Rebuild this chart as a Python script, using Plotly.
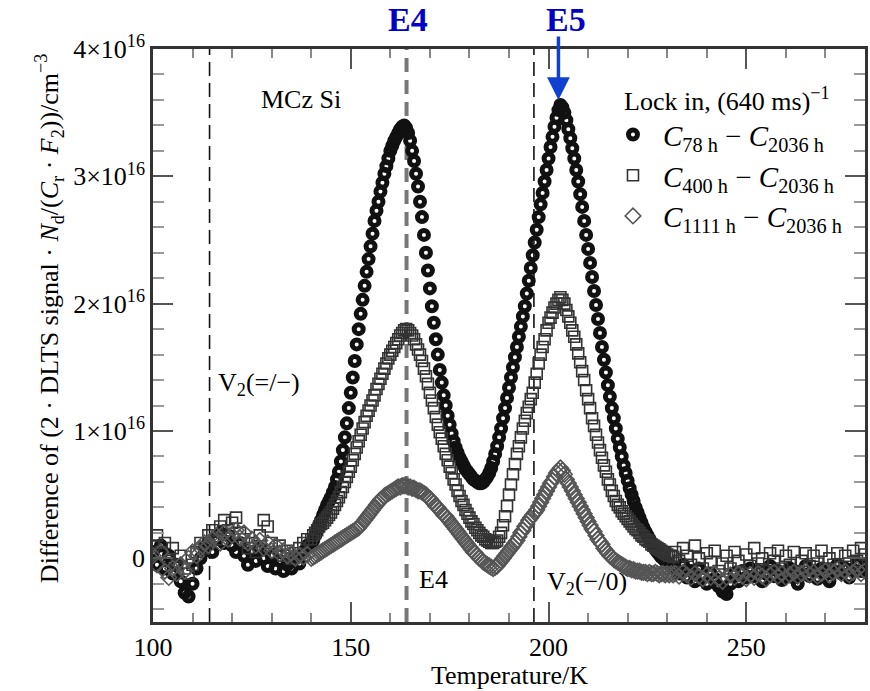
import numpy as np
import plotly.graph_objects as go

# Temperature sampling (K): 1 K on the flat wings, 0.5 K across the two peaks
T_LOW = np.arange(100, 140, 1.0)
T_MID = np.arange(140, 232, 0.5)
T_HIGH = np.arange(232, 281, 1.0)
temperature = np.concatenate([T_LOW, T_MID, T_HIGH])

UNIT = 1e16  # signal values below are in units of 1e16 cm^-3

# C(78 h) - C(2036 h)
c78_low = [0.05, -0.05, 0.10, -0.08, 0.02, -0.12, -0.05, -0.18, -0.27, -0.30,
           -0.20, -0.08, 0.00, 0.08, 0.12, 0.05, 0.15, 0.20, 0.12, 0.18,
           0.10, 0.05, 0.12, 0.02, -0.05, 0.05, -0.02, 0.08, 0.00, -0.06,
           0.02, -0.08, -0.02, -0.10, -0.05, -0.08, 0.00, -0.04, 0.05, 0.10]
c78_mid = [0.10, 0.14, 0.18, 0.22, 0.26, 0.30, 0.34, 0.38, 0.42, 0.45,
           0.48, 0.52, 0.56, 0.62, 0.68, 0.76, 0.85, 0.95, 1.06, 1.18,
           1.30, 1.42, 1.55, 1.68, 1.80, 1.92, 2.03, 2.14, 2.25, 2.35,
           2.45, 2.55, 2.65, 2.73, 2.80, 2.88, 2.95, 3.02, 3.08, 3.14,
           3.20, 3.24, 3.28, 3.31, 3.34, 3.37, 3.39, 3.40, 3.38, 3.34,
           3.28, 3.20, 3.12, 3.02, 2.92, 2.80, 2.68, 2.54, 2.40, 2.26,
           2.12, 1.98, 1.85, 1.72, 1.60, 1.48, 1.38, 1.28, 1.20, 1.12,
           1.05, 0.98, 0.92, 0.87, 0.83, 0.79, 0.76, 0.73, 0.70, 0.68,
           0.66, 0.64, 0.62, 0.61, 0.60, 0.59, 0.59, 0.60, 0.62, 0.64,
           0.67, 0.71, 0.76, 0.82, 0.88, 0.95, 1.02, 1.10, 1.18, 1.26,
           1.34, 1.42, 1.50, 1.58, 1.66, 1.74, 1.82, 1.90, 1.98, 2.08,
           2.18, 2.28, 2.38, 2.48, 2.58, 2.68, 2.78, 2.87, 2.96, 3.05,
           3.14, 3.23, 3.31, 3.39, 3.46, 3.52, 3.56, 3.54, 3.50, 3.44,
           3.37, 3.30, 3.22, 3.14, 3.05, 2.96, 2.86, 2.76, 2.65, 2.54,
           2.43, 2.32, 2.21, 2.10, 1.99, 1.88, 1.77, 1.66, 1.56, 1.46,
           1.36, 1.27, 1.18, 1.10, 1.02, 0.94, 0.87, 0.80, 0.73, 0.67,
           0.61, 0.55, 0.50, 0.45, 0.40, 0.36, 0.32, 0.28, 0.24, 0.21,
           0.18, 0.15, 0.12, 0.10, 0.07, 0.05, 0.03, 0.01, 0.00, -0.02,
           -0.04, -0.05, -0.07, -0.08]
c78_high = [-0.08, -0.12, -0.05, -0.15, -0.10, -0.18, -0.08, -0.14, -0.20, -0.12,
            -0.16, -0.22, -0.26, -0.28, -0.20, -0.12, -0.18, -0.10, -0.15, -0.08,
            -0.14, -0.10, -0.18, -0.12, -0.06, -0.14, -0.10, -0.17, -0.12, -0.08,
            -0.15, -0.20, -0.12, -0.06, -0.14, -0.10, -0.16, -0.08, -0.13, -0.18,
            -0.10, -0.05, -0.12, -0.08, -0.15, -0.09, -0.04, -0.10, -0.06]

# C(400 h) - C(2036 h)
c400_low = [0.10, 0.18, 0.05, 0.12, -0.02, 0.08, -0.05, 0.02, -0.08, -0.12,
            -0.05, 0.05, 0.12, 0.08, 0.18, 0.22, 0.15, 0.25, 0.30, 0.22,
            0.28, 0.32, 0.20, 0.15, 0.08, 0.12, 0.05, 0.18, 0.30, 0.25,
            0.12, 0.05, 0.10, 0.02, 0.06, 0.00, 0.04, 0.08, 0.12, 0.15]
c400_mid = [0.15, 0.18, 0.20, 0.22, 0.25, 0.27, 0.28, 0.30, 0.32, 0.34,
            0.36, 0.39, 0.42, 0.45, 0.48, 0.52, 0.56, 0.60, 0.64, 0.68,
            0.72, 0.77, 0.82, 0.87, 0.92, 0.97, 1.02, 1.07, 1.12, 1.16,
            1.20, 1.24, 1.28, 1.33, 1.37, 1.41, 1.45, 1.49, 1.53, 1.57,
            1.60, 1.63, 1.66, 1.69, 1.72, 1.75, 1.77, 1.79, 1.80, 1.79,
            1.77, 1.75, 1.72, 1.68, 1.64, 1.60, 1.55, 1.49, 1.43, 1.37,
            1.30, 1.24, 1.18, 1.11, 1.05, 0.99, 0.94, 0.88, 0.82, 0.77,
            0.72, 0.67, 0.62, 0.58, 0.53, 0.49, 0.45, 0.42, 0.38, 0.35,
            0.32, 0.29, 0.27, 0.24, 0.22, 0.20, 0.18, 0.17, 0.15, 0.14,
            0.13, 0.12, 0.12, 0.13, 0.14, 0.17, 0.20, 0.26, 0.33, 0.41,
            0.50, 0.58, 0.66, 0.74, 0.82, 0.88, 0.95, 1.02, 1.08, 1.14,
            1.19, 1.25, 1.30, 1.38, 1.45, 1.53, 1.60, 1.66, 1.72, 1.79,
            1.85, 1.89, 1.93, 1.97, 2.00, 2.03, 2.05, 2.03, 2.00, 1.95,
            1.90, 1.85, 1.79, 1.74, 1.68, 1.61, 1.54, 1.47, 1.40, 1.32,
            1.25, 1.18, 1.10, 1.04, 0.97, 0.91, 0.85, 0.79, 0.73, 0.68,
            0.62, 0.58, 0.53, 0.49, 0.45, 0.42, 0.40, 0.37, 0.35, 0.33,
            0.31, 0.29, 0.27, 0.25, 0.23, 0.22, 0.20, 0.18, 0.17, 0.15,
            0.14, 0.13, 0.11, 0.10, 0.09, 0.08, 0.07, 0.06, 0.05, 0.04,
            0.03, 0.02, 0.02, 0.01]
c400_high = [0.05, -0.02, 0.08, 0.02, -0.05, 0.10, 0.00, -0.08, 0.04, -0.03,
             0.06, -0.10, -0.04, 0.02, -0.08, 0.05, -0.02, -0.12, 0.03, -0.06,
             0.08, -0.04, 0.00, -0.10, 0.04, -0.02, 0.06, -0.08, 0.02, -0.05,
             0.05, -0.10, -0.02, 0.04, -0.06, 0.02, -0.04, 0.06, -0.08, 0.00,
             -0.05, 0.04, -0.10, 0.02, -0.04, 0.06, -0.02, 0.08, 0.03]

# C(1111 h) - C(2036 h)
c1111_low = [0.02, -0.05, 0.05, -0.10, -0.15, -0.08, -0.12, -0.05, -0.10, 0.00,
             0.05, 0.02, 0.08, 0.12, 0.10, 0.15, 0.18, 0.12, 0.20, 0.15,
             0.18, 0.22, 0.16, 0.20, 0.12, 0.15, 0.10, 0.14, 0.08, 0.12,
             0.06, 0.10, 0.04, 0.06, 0.02, 0.04, 0.00, 0.02, 0.01, 0.03]
c1111_mid = [0.00, 0.01, 0.02, 0.03, 0.04, 0.05, 0.06, 0.07, 0.08, 0.09,
             0.10, 0.11, 0.12, 0.13, 0.14, 0.15, 0.16, 0.17, 0.18, 0.19,
             0.20, 0.21, 0.22, 0.23, 0.24, 0.26, 0.28, 0.30, 0.32, 0.34,
             0.36, 0.38, 0.40, 0.42, 0.44, 0.46, 0.47, 0.49, 0.50, 0.51,
             0.52, 0.53, 0.54, 0.55, 0.56, 0.56, 0.57, 0.57, 0.57, 0.56,
             0.56, 0.55, 0.55, 0.54, 0.53, 0.53, 0.52, 0.51, 0.50, 0.48,
             0.47, 0.45, 0.43, 0.41, 0.40, 0.38, 0.36, 0.34, 0.33, 0.31,
             0.29, 0.27, 0.25, 0.23, 0.21, 0.19, 0.17, 0.15, 0.13, 0.11,
             0.09, 0.07, 0.05, 0.04, 0.02, 0.00, -0.01, -0.03, -0.04, -0.05,
             -0.06, -0.07, -0.08, -0.07, -0.06, -0.04, -0.02, 0.00, 0.02, 0.04,
             0.06, 0.08, 0.10, 0.12, 0.14, 0.17, 0.20, 0.22, 0.25, 0.27,
             0.30, 0.32, 0.34, 0.36, 0.38, 0.41, 0.44, 0.47, 0.50, 0.53,
             0.56, 0.59, 0.61, 0.64, 0.67, 0.69, 0.71, 0.69, 0.66, 0.62,
             0.59, 0.56, 0.53, 0.50, 0.47, 0.44, 0.41, 0.38, 0.35, 0.32,
             0.29, 0.26, 0.23, 0.21, 0.18, 0.15, 0.13, 0.11, 0.08, 0.06,
             0.04, 0.02, 0.01, -0.01, -0.02, -0.03, -0.04, -0.05, -0.06, -0.07,
             -0.08, -0.08, -0.09, -0.09, -0.10, -0.10, -0.10, -0.11, -0.11, -0.11,
             -0.12, -0.11, -0.12, -0.12, -0.11, -0.12, -0.13, -0.12, -0.12, -0.13,
             -0.12, -0.13, -0.12, -0.13]
c1111_high = [-0.12, -0.14, -0.11, -0.13, -0.15, -0.12, -0.14, -0.16, -0.13, -0.15,
              -0.12, -0.16, -0.18, -0.15, -0.13, -0.15, -0.12, -0.14, -0.16, -0.13,
              -0.15, -0.12, -0.14, -0.16, -0.13, -0.11, -0.14, -0.12, -0.15, -0.13,
              -0.11, -0.14, -0.12, -0.10, -0.13, -0.11, -0.14, -0.12, -0.10, -0.13,
              -0.11, -0.09, -0.12, -0.10, -0.13, -0.11, -0.09, -0.12, -0.10]

# Level positions (K) marked by dashed lines
T_V2_DOUBLE = 114.3
T_E4 = 164.1
T_V2_SINGLE = 196.3
T_E5 = 202.5
E5_PEAK = 3.6

SERIF = "Liberation Serif"
BLUE = "#0000C8"


def series(*parts):
    vals = np.concatenate([np.asarray(p, dtype=float) for p in parts])
    assert len(vals) == len(temperature)
    return vals * UNIT


y78 = series(c78_low, c78_mid, c78_high)
y400 = series(c400_low, c400_mid, c400_high)
y1111 = series(c1111_low, c1111_mid, c1111_high)

fig = go.Figure()
fig.add_trace(go.Scatter(
    x=temperature, y=y78, mode="markers",
    name="<i>C</i><sub>78 h</sub> − <i>C</i><sub>2036 h</sub>",
    marker=dict(symbol="circle-open", size=9, color="#111111",
                line=dict(width=5, color="#111111")),
))
fig.add_trace(go.Scatter(
    x=temperature, y=y400, mode="markers",
    name="<i>C</i><sub>400 h</sub> − <i>C</i><sub>2036 h</sub>",
    marker=dict(symbol="square-open", size=11, color="#333333",
                line=dict(width=1.6, color="#333333")),
))
fig.add_trace(go.Scatter(
    x=temperature, y=y1111, mode="markers",
    name="<i>C</i><sub>1111 h</sub> − <i>C</i><sub>2036 h</sub>",
    marker=dict(symbol="diamond-open", size=12, color="#555555",
                line=dict(width=1.6, color="#555555")),
))

# dashed level markers
for t, col, w, dash in [(T_V2_DOUBLE, "#111111", 1.6, "14px,7px"),
                        (T_E4, "#777777", 4, "14px,8px"),
                        (T_V2_SINGLE, "#111111", 1.6, "14px,7px")]:
    fig.add_shape(type="line", xref="x", yref="paper", x0=t, x1=t, y0=0, y1=1,
                  line=dict(color=col, width=w, dash=dash), layer="below")

ann = [
    dict(x=137.4, y=3.6 * UNIT, text="MCz Si", showarrow=False,
         font=dict(family=SERIF, size=26, color="black")),
    dict(x=115.8, y=1.37 * UNIT, text="V<sub>2</sub>(=/−)", showarrow=False,
         xanchor="left", font=dict(family=SERIF, size=26, color="black")),
    dict(x=166.8, y=-0.17 * UNIT, text="E4", showarrow=False,
         xanchor="left", font=dict(family=SERIF, size=26, color="black")),
    dict(x=199.0, y=-0.19 * UNIT, text="V<sub>2</sub>(−/0)", showarrow=False,
         xanchor="left", font=dict(family=SERIF, size=26, color="black")),
    dict(x=T_E4 + 0.4, y=1.0, yref="paper", yanchor="bottom", yshift=9,
         text="<b>E4</b>", showarrow=False,
         font=dict(family=SERIF, size=34, color=BLUE)),
    dict(x=T_E5 + 2.0, y=1.0, yref="paper", yanchor="bottom", yshift=9,
         text="<b>E5</b>", showarrow=False,
         font=dict(family=SERIF, size=34, color=BLUE)),
    dict(x=T_E5, y=E5_PEAK * UNIT, ax=T_E5, ay=4.11 * UNIT, axref="x", ayref="y",
         text="", showarrow=True, arrowhead=2, arrowsize=1.3, arrowwidth=3.5,
         arrowcolor="#1040D0", standoff=0),
    dict(xref="paper", yref="paper", x=0.659, y=0.911, xanchor="left", yanchor="middle",
         text="Lock in, (640 ms)<sup>−1</sup>", showarrow=False,
         font=dict(family=SERIF, size=26, color="black")),
    dict(xref="paper", yref="paper", x=-0.173, y=0.53, textangle=-90,
         text="Difference of (2 · DLTS signal · <i>N</i><sub>d</sub>/(<i>C</i><sub>r</sub> · "
              "<i>F</i><sub>2</sub>))/cm<sup>−3</sup>",
         showarrow=False, font=dict(family=SERIF, size=26, color="black")),
    dict(xref="paper", yref="paper", x=0.5, y=-0.093, yanchor="middle",
         text="Temperature/K",
         showarrow=False, font=dict(family=SERIF, size=26, color="black")),
]
for a in ann:
    fig.add_annotation(**a)

y_ticks = [0, 1, 2, 3, 4]
y_ticktext = ["0"] + [f"{v}×10<sup>16</sup>" for v in y_ticks[1:]]

axis_common = dict(showline=True, linecolor="#333333", linewidth=2.5, mirror="ticks",
                   ticks="inside", ticklen=20, tickwidth=2, tickcolor="#555555",
                   showgrid=False, zeroline=False,
                   tickfont=dict(family=SERIF, size=26, color="black"))

fig.update_xaxes(range=[100, 280], tick0=100, dtick=50,
                 minor=dict(ticks="inside", ticklen=9, dtick=10, tickwidth=2,
                            tickcolor="#888888", showgrid=False),
                 **axis_common)
fig.update_yaxes(range=[-0.5 * UNIT, 4 * UNIT],
                 tickvals=[v * UNIT for v in y_ticks], ticktext=y_ticktext,
                 minor=dict(ticks="inside", ticklen=11, dtick=0.2 * UNIT, tickwidth=2,
                            tickcolor="#999999", showgrid=False),
                 **axis_common)

fig.update_layout(
    width=870, height=691,
    margin=dict(l=153, r=2, t=49, b=69),
    plot_bgcolor="white", paper_bgcolor="white",
    font=dict(family=SERIF, size=26, color="black"),
    legend=dict(x=0.632, y=0.895, xanchor="left", yanchor="top",
                bgcolor="rgba(0,0,0,0)", itemwidth=50,
                font=dict(family=SERIF, size=29), tracegroupgap=0),
)

fig.write_html("out.html")
